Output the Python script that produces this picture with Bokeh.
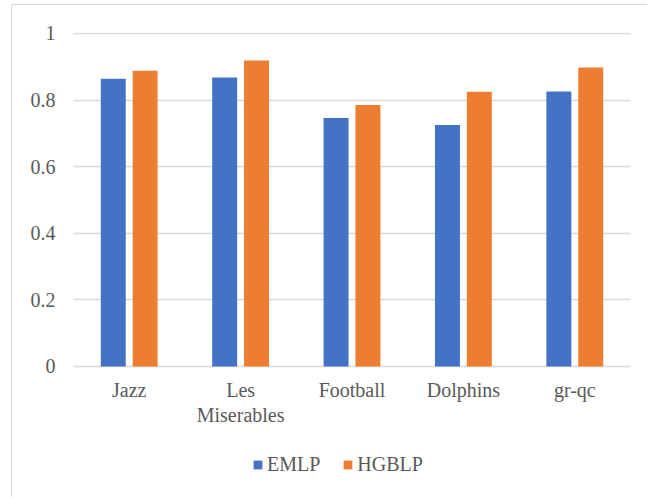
from bokeh.plotting import figure
from bokeh.models import (ColumnDataSource, FactorRange, Range1d, FixedTicker,
                          CustomJSTickFormatter, Legend, LegendItem)
from bokeh.core.properties import value
from bokeh.transform import dodge
from bokeh.embed import file_html
from bokeh.resources import INLINE

# Data
categories = ["Jazz", "Les Miserables", "Football", "Dolphins", "gr-qc"]
emlp = [0.864, 0.868, 0.746, 0.725, 0.826]
hgblp = [0.888, 0.919, 0.785, 0.825, 0.898]
y_ticks = [0, 0.2, 0.4, 0.6, 0.8, 1.0]

FONT = "Liberation Serif"
TEXT = "#595959"
GRID = "#d9d9d9"

source = ColumnDataSource(data=dict(cat=categories, emlp=emlp, hgblp=hgblp))

# The frame reaches down under the bars so the category names and the
# legend can sit in the space below zero.
p = figure(width=636, height=493, x_range=FactorRange(*categories, range_padding=0),
           y_range=Range1d(-0.3784, 1.003), output_backend="svg", toolbar_location=None,
           x_axis_location=None,
           min_border_left=61, min_border_right=18, min_border_top=27, min_border_bottom=6)

# Chart area border (top and left edges)
p.margin = (4, 0, 0, 11)
p.styles = {"border-top": "1.5px solid #d9d9d9", "border-left": "1.5px solid #d9d9d9"}

r1 = p.vbar(x=dodge("cat", -0.143, range=p.x_range), top="emlp", bottom=0, width=0.224,
            source=source, fill_color="#4472C4", line_color=None)
r2 = p.vbar(x=dodge("cat", 0.143, range=p.x_range), top="hgblp", bottom=0, width=0.224,
            source=source, fill_color="#ED7D31", line_color=None)

p.outline_line_color = None
p.background_fill_color = "white"
p.border_fill_color = "white"

# Grid
p.xgrid.grid_line_color = None
p.ygrid.grid_line_color = GRID
p.ygrid.grid_line_width = 1.5
p.yaxis.ticker = FixedTicker(ticks=y_ticks)
p.ygrid.ticker = FixedTicker(ticks=y_ticks)

# Y axis: labels only
p.yaxis.formatter = CustomJSTickFormatter(code="return tick.toFixed(1).replace(/\\.0$/, '');")
p.yaxis.axis_line_color = None
p.yaxis.major_tick_line_color = None
p.yaxis.minor_tick_line_color = None
p.yaxis.major_label_standoff = 12
p.yaxis.major_label_text_font = FONT
p.yaxis.major_label_text_font_size = "20px"
p.yaxis.major_label_text_color = TEXT

# Category names, long ones wrapped onto a second line
first_line = [c.split(" ")[0] for c in categories]
second_line = [" ".join(c.split(" ")[1:]) for c in categories]
labels = ColumnDataSource(data=dict(cat=categories, l1=first_line, l2=second_line,
                                    y1=[-0.0706] * len(categories),
                                    y2=[-0.1448] * len(categories)))
for col, ycol in (("l1", "y1"), ("l2", "y2")):
    p.text(x="cat", y=ycol, text=col, source=labels, text_align="center",
           text_baseline="alphabetic", text_font=value(FONT),
           text_font_size=value("20px"), text_color=TEXT)

# Legend under the chart
legend = Legend(items=[LegendItem(label="EMLP", renderers=[r1]),
                       LegendItem(label="HGBLP", renderers=[r2])],
                orientation="horizontal", location=(179, 16),
                glyph_width=11, glyph_height=11, label_standoff=4, spacing=22,
                label_text_font=FONT, label_text_font_size="20px", label_text_color=TEXT,
                border_line_color=None, background_fill_alpha=0, padding=0, margin=0)
p.add_layout(legend)

open("out.html", "w").write(file_html(p, INLINE))
